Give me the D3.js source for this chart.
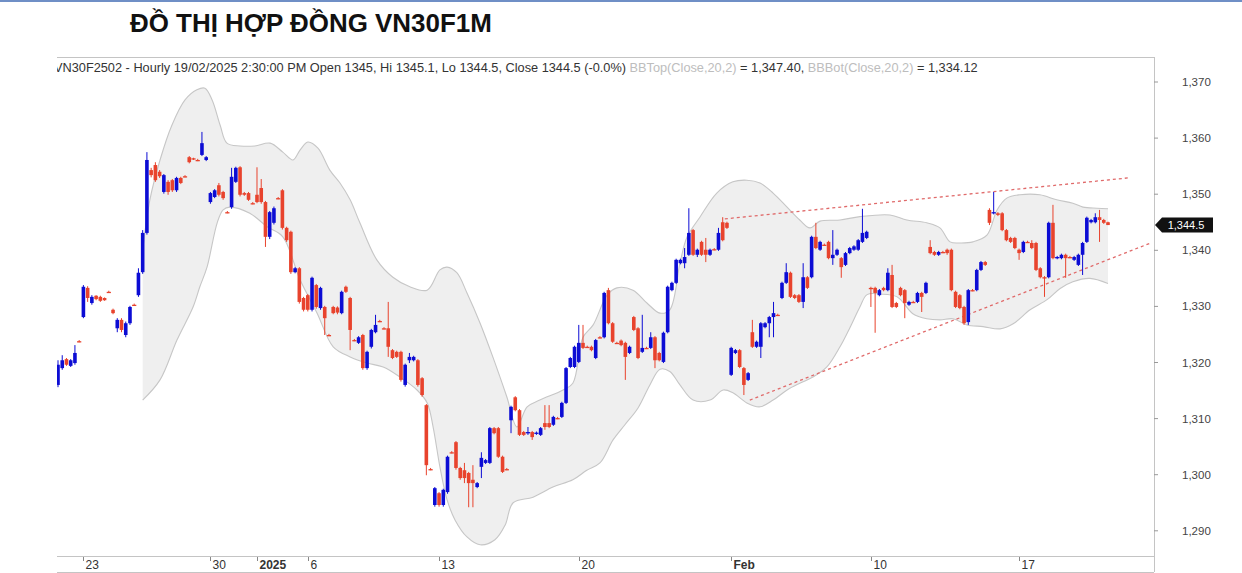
<!DOCTYPE html>
<html><head><meta charset="utf-8">
<script src="https://cdn.jsdelivr.net/npm/d3@7"></script>
<style>html,body{margin:0;padding:0;background:#fff;}svg{display:block;font-family:"Liberation Sans",Arial,sans-serif;}</style>
</head><body><svg id="c" width="1242" height="573"></svg>
<script>
// OHLC [open, high, low, close], hourly bars
const candles = [
[1316.0,1320.4,1315.6,1319.6],[1319.0,1321.3,1318.7,1320.4],[1320.6,1320.8,1319.4,1319.6],[1319.4,1320.6,1319.2,1320.4],
[1319.9,1323.1,1319.6,1321.7],[1323.8,1324.0,1323.6,1323.8],[1328.1,1333.8,1327.9,1333.5],[1333.3,1333.6,1330.8,1331.5],
[1330.6,1332.0,1330.3,1331.7],[1331.9,1332.0,1331.1,1331.3],[1331.7,1331.9,1330.8,1331.0],[1331.5,1331.6,1331.0,1331.1],
[1332.6,1332.8,1332.4,1332.6],[1329.4,1329.6,1328.6,1328.8],[1326.1,1327.9,1325.4,1327.6],[1327.6,1327.9,1325.4,1325.8],
[1324.9,1327.3,1324.5,1327.0],[1327.0,1330.1,1326.7,1329.9],[1330.3,1330.5,1330.1,1330.3],[1332.0,1336.8,1331.7,1336.0],
[1336.1,1343.6,1335.8,1343.1],[1343.1,1357.5,1342.8,1356.1],[1354.3,1354.7,1353.0,1353.4],[1355.2,1355.7,1352.2,1352.5],
[1354.0,1354.3,1352.9,1353.2],[1350.4,1353.6,1350.1,1353.4],[1352.2,1352.5,1349.9,1350.4],[1352.5,1352.7,1350.4,1350.7],
[1350.7,1353.1,1350.4,1352.9],[1352.9,1353.1,1351.8,1352.0],[1353.2,1353.4,1353.0,1353.2],[1356.6,1356.8,1355.5,1355.7],
[1356.4,1356.5,1356.1,1356.2],[1356.1,1356.3,1355.9,1356.1],[1357.0,1361.1,1356.8,1359.1],[1356.1,1356.8,1355.9,1356.6],
[1348.6,1350.4,1348.3,1350.2],[1349.5,1350.9,1349.3,1350.7],[1351.6,1352.0,1349.6,1349.9],[1350.4,1350.6,1349.0,1349.3],
[1346.8,1347.0,1346.6,1346.8],[1347.7,1354.7,1347.4,1353.1],[1352.2,1354.9,1352.0,1354.7],[1354.8,1355.0,1349.6,1349.9],
[1350.2,1350.4,1349.7,1349.9],[1350.2,1350.4,1348.8,1349.0],[1348.4,1348.6,1348.2,1348.4],[1349.9,1354.8,1348.4,1348.6],
[1351.1,1352.7,1348.3,1348.6],[1348.6,1348.8,1340.6,1342.4],[1342.4,1347.0,1342.0,1346.8],[1344.9,1347.8,1344.6,1347.5],
[1349.3,1349.5,1349.1,1349.3],[1350.7,1350.9,1343.7,1344.0],[1344.0,1344.2,1341.5,1341.8],[1343.3,1343.5,1335.8,1336.1],
[1336.1,1337.0,1335.9,1336.8],[1336.8,1337.0,1330.5,1330.8],[1331.5,1331.7,1329.1,1329.4],[1332.0,1332.2,1329.1,1329.4],
[1329.4,1335.3,1329.1,1335.1],[1333.8,1334.0,1329.6,1329.9],[1329.7,1333.5,1329.4,1333.3],[1329.9,1330.1,1324.9,1327.9],
[1324.9,1325.1,1324.7,1324.9],[1329.9,1330.1,1328.6,1328.8],[1329.8,1330.0,1328.6,1328.9],[1328.8,1332.8,1328.6,1332.6],
[1333.5,1333.7,1332.4,1332.6],[1331.5,1331.7,1322.2,1325.8],[1324.0,1324.2,1323.8,1324.0],[1323.5,1324.7,1323.3,1324.5],
[1324.9,1325.1,1318.7,1319.0],[1319.0,1322.1,1318.7,1321.9],[1322.8,1326.0,1322.5,1325.8],[1325.4,1328.5,1325.2,1326.7],
[1327.4,1327.6,1327.2,1327.4],[1326.1,1326.3,1325.9,1326.1],[1326.1,1330.8,1321.0,1322.8],[1322.2,1322.4,1320.6,1320.8],
[1321.9,1322.1,1320.8,1321.0],[1321.9,1322.1,1316.6,1316.9],[1316.0,1319.8,1315.7,1319.6],[1320.4,1321.7,1319.9,1321.0],
[1320.4,1321.2,1320.2,1321.0],[1320.4,1320.6,1315.7,1316.0],[1317.2,1317.4,1313.9,1314.2],[1312.4,1312.6,1299.9,1301.7],
[1301.0,1301.2,1300.8,1301.0],[1294.6,1297.8,1294.3,1297.6],[1296.7,1296.9,1294.3,1294.6],[1294.6,1297.5,1294.3,1297.3],
[1296.9,1303.4,1296.6,1303.2],[1304.0,1304.2,1303.8,1304.0],[1305.8,1306.0,1300.9,1301.2],[1301.2,1301.4,1299.1,1299.4],
[1300.8,1302.1,1298.5,1299.4],[1300.3,1300.5,1294.2,1298.5],[1299.1,1301.7,1294.2,1298.5],[1297.8,1298.7,1297.6,1298.5],
[1301.4,1304.0,1299.4,1303.0],[1302.1,1302.8,1301.9,1302.6],[1302.1,1308.5,1301.9,1308.3],[1308.3,1308.5,1307.2,1307.4],
[1308.3,1308.5,1303.0,1303.2],[1303.2,1303.4,1300.3,1300.5],[1301.0,1301.2,1300.8,1301.0],[1309.7,1312.3,1307.4,1312.1],
[1313.8,1314.0,1311.3,1311.5],[1311.5,1311.7,1306.9,1307.1],[1307.6,1307.8,1306.9,1307.1],[1307.4,1308.5,1307.1,1307.6],
[1307.6,1307.8,1306.2,1306.7],[1307.3,1307.7,1307.1,1307.5],[1307.1,1308.5,1306.9,1308.3],[1309.2,1312.4,1308.0,1308.5],
[1309.2,1312.4,1308.3,1308.5],[1308.9,1310.5,1308.7,1310.3],[1310.1,1310.3,1309.9,1310.1],[1310.3,1313.0,1310.1,1312.8],
[1312.8,1319.2,1312.6,1319.0],[1319.2,1321.0,1319.0,1320.8],[1319.2,1323.0,1319.0,1322.8],[1320.1,1326.7,1319.9,1323.5],
[1323.5,1326.7,1322.4,1322.6],[1322.8,1323.0,1322.6,1322.8],[1322.8,1323.0,1322.0,1322.2],[1320.8,1324.2,1320.6,1324.0],
[1324.5,1324.7,1324.3,1324.5],[1324.5,1332.6,1324.3,1332.4],[1332.9,1333.3,1326.8,1327.0],[1327.0,1327.2,1323.5,1323.7],
[1323.5,1323.7,1323.3,1323.5],[1323.9,1324.1,1322.9,1323.1],[1323.5,1323.7,1316.9,1321.0],[1321.7,1323.0,1321.5,1322.8],
[1328.1,1328.3,1325.6,1325.8],[1326.1,1326.3,1320.6,1320.8],[1321.9,1328.5,1321.7,1322.6],[1322.6,1322.8,1322.4,1322.6],
[1322.6,1325.4,1322.4,1324.5],[1324.5,1324.7,1319.0,1320.4],[1321.7,1321.9,1320.2,1320.4],[1320.1,1325.5,1319.9,1325.3],
[1325.4,1333.7,1325.2,1333.5],[1332.9,1334.4,1332.7,1334.2],[1334.2,1338.5,1334.0,1338.3],[1337.7,1338.5,1337.5,1338.3],
[1337.7,1340.4,1336.8,1338.8],[1339.2,1347.5,1339.0,1343.1],[1343.6,1343.8,1339.0,1339.2],[1339.2,1340.3,1338.8,1340.1],
[1341.5,1341.7,1339.0,1339.2],[1340.1,1342.2,1337.9,1339.2],[1339.2,1340.3,1339.0,1340.1],[1340.2,1340.4,1340.0,1340.2],
[1340.1,1344.0,1339.9,1343.1],[1345.0,1345.9,1341.6,1341.8],[1344.9,1345.1,1343.8,1344.0],[1317.8,1322.8,1317.6,1322.6],
[1321.7,1322.4,1321.5,1322.2],[1322.2,1322.4,1319.0,1319.2],[1319.0,1319.2,1314.2,1316.0],[1316.9,1318.3,1316.7,1318.1],
[1325.4,1327.6,1322.6,1322.8],[1322.8,1323.9,1322.6,1323.7],[1322.8,1327.2,1320.8,1327.0],[1326.3,1327.2,1326.1,1327.0],
[1327.0,1328.3,1324.5,1328.1],[1328.1,1330.8,1324.5,1328.8],[1328.5,1328.7,1328.3,1328.5],[1331.5,1334.4,1331.3,1334.2],
[1334.2,1337.7,1334.0,1336.1],[1336.0,1336.2,1331.5,1331.7],[1332.0,1332.2,1331.3,1331.5],[1332.0,1332.2,1330.6,1330.8],
[1330.8,1337.7,1329.7,1335.2],[1335.2,1335.4,1333.1,1333.3],[1335.2,1342.6,1335.0,1342.4],[1342.4,1344.9,1340.2,1340.4],
[1340.1,1341.7,1339.9,1341.5],[1341.0,1341.2,1340.8,1341.0],[1341.5,1341.7,1338.4,1338.6],[1338.6,1343.6,1337.4,1339.2],
[1339.2,1340.3,1339.0,1340.1],[1338.6,1338.8,1335.1,1337.0],[1337.4,1339.7,1337.2,1339.5],[1339.5,1340.6,1339.3,1340.4],
[1340.1,1340.9,1339.9,1340.7],[1340.1,1342.0,1339.9,1341.8],[1341.5,1347.4,1341.3,1343.1],[1342.2,1343.5,1342.0,1343.3],
[1333.3,1333.5,1329.9,1333.1],[1333.3,1333.5,1325.3,1332.4],[1332.0,1333.1,1331.8,1332.9],[1333.3,1333.5,1332.7,1332.9],
[1332.9,1336.8,1332.7,1336.0],[1335.6,1337.4,1329.7,1329.9],[1330.6,1330.8,1329.7,1329.9],[1333.3,1333.5,1331.8,1332.0],
[1332.9,1333.1,1327.9,1330.6],[1330.3,1331.0,1330.1,1330.8],[1330.8,1331.0,1330.6,1330.8],[1330.8,1332.6,1330.6,1332.4],
[1332.4,1332.6,1329.0,1331.7],[1332.4,1334.4,1332.2,1334.2],[1340.6,1341.8,1339.3,1339.5],[1339.7,1339.9,1339.0,1339.2],
[1339.2,1339.9,1339.0,1339.7],[1339.7,1339.9,1339.5,1339.7],[1340.1,1340.3,1339.2,1339.5],[1340.1,1340.3,1332.7,1332.9],
[1332.6,1332.8,1329.7,1329.9],[1332.0,1332.2,1329.5,1329.7],[1329.9,1330.1,1326.7,1327.0],[1327.2,1333.1,1326.7,1332.9],
[1332.9,1333.1,1332.7,1332.9],[1332.9,1336.7,1332.7,1336.5],[1336.5,1338.1,1336.3,1337.9],[1337.9,1338.1,1337.2,1337.4],
[1347.2,1347.5,1344.5,1344.9],[1346.6,1350.4,1346.4,1346.8],[1346.6,1346.8,1346.1,1346.3],[1346.6,1346.8,1343.4,1343.6],
[1343.6,1343.8,1341.6,1341.8],[1342.2,1342.4,1341.3,1341.5],[1342.2,1342.4,1340.2,1340.4],[1340.1,1340.3,1338.3,1339.5],
[1339.7,1341.7,1339.5,1341.5],[1341.5,1341.7,1341.3,1341.5],[1341.3,1341.8,1340.2,1340.4],[1341.3,1341.5,1336.3,1336.5],
[1336.8,1337.0,1335.0,1335.2],[1335.2,1335.4,1331.7,1335.1],[1335.2,1345.1,1335.0,1344.9],[1344.9,1348.1,1338.4,1338.6],
[1338.6,1339.0,1338.4,1338.8],[1338.6,1339.4,1338.4,1339.2],[1339.2,1339.4,1335.1,1338.6],[1338.8,1339.0,1338.6,1338.8],
[1338.3,1339.0,1338.1,1338.8],[1337.4,1339.4,1337.2,1339.2],[1339.2,1341.5,1335.6,1341.3],[1341.5,1346.0,1341.3,1345.8],
[1345.0,1345.6,1344.8,1345.4],[1345.0,1346.6,1344.8,1345.9],[1345.9,1347.2,1341.5,1345.4],[1345.4,1345.6,1344.7,1344.9],
[1345.0,1345.1,1344.5,1344.5]
];

// Bollinger band outline (bar index, price)
const bbTopIdx = [20,21.7,24.1,26.9,30,32.8,34.7,36.4,38.3,39.9,43,46.5,50.1,53.1,55.5,57.2,59,61.4,64.2,66.6,69,71.3,75.3,79.1,83.1,87.2,90.2,91.9,94.2,96.6,99.7,102.7,106,108.4,110.8,113.8,119.3,121.6,124,126.4,129.7,132,135.8,139.1,142.2,144.5,146.9,148.6,151.6,155.6,159.4,162.7,165.8,168.9,172.2,175.2,177.6,180,184.7,189.4,196.5,200.5,205.2,208.3,210.7,213,216.1,219.4,221.8,224.1,227.2,231.9,235.9,239.7,242.1,245.4,248];
const bbTopVal = [1340.0,1349.0,1356.1,1362.3,1366.8,1368.6,1368.9,1366.8,1362.3,1359.1,1358.6,1358.6,1359.1,1357.5,1356.1,1357.9,1359.3,1358.2,1354.3,1352.0,1349.0,1344.9,1338.3,1335.2,1333.5,1332.9,1336.5,1337.0,1336.0,1332.4,1327.0,1321.0,1313.9,1308.5,1312.1,1313.3,1315.1,1316.3,1324.5,1326.7,1332.0,1333.3,1332.9,1330.6,1328.8,1329.4,1337.7,1342.4,1345.9,1350.2,1352.2,1352.5,1352.0,1350.2,1347.7,1345.4,1344.0,1345.2,1345.4,1346.0,1346.3,1345.4,1344.9,1344.0,1341.5,1341.3,1341.5,1342.7,1347.2,1349.3,1349.9,1349.9,1349.0,1348.4,1347.7,1347.5,1347.4];
const bbBotIdx = [20,24.1,28.1,31.9,33.5,35.2,37.6,39,40.6,45.3,49.4,53.1,57.2,61.2,65,69,73,76.8,80.8,84.8,87.2,88.6,90.2,91.9,93.8,96.6,99.7,103.2,105.6,107.5,112.2,116.9,121.6,124.9,128,131.1,133.9,137,139.8,142.2,144.5,146.9,150,154,157.1,159.4,162.7,165.8,168.9,172.2,175.2,178.3,181.6,184.7,187.1,189.4,191.1,194.2,198.2,201.9,205.2,208.3,211.4,214.7,218.5,222.5,225.6,229.6,233.6,236.7,239.7,243.7,248];
const bbBotVal = [1313.3,1316.9,1324.0,1329.9,1333.5,1337.0,1344.9,1347.2,1347.7,1346.6,1344.2,1342.4,1334.7,1328.8,1322.8,1321.0,1319.9,1319.2,1317.4,1315.1,1312.8,1308.5,1301.4,1295.5,1291.9,1288.9,1287.5,1288.4,1291.0,1295.0,1296.0,1297.8,1299.1,1300.8,1302.1,1306.2,1308.9,1311.9,1316.0,1318.8,1318.4,1316.0,1313.3,1313.3,1315.1,1314.6,1312.8,1312.1,1313.3,1315.1,1316.3,1317.4,1319.2,1322.8,1326.3,1329.9,1332.1,1332.2,1331.7,1328.7,1327.8,1327.6,1327.8,1326.7,1326.4,1326.0,1326.9,1329.4,1331.2,1333.2,1334.4,1335.0,1334.1];

// Hand-drawn trend lines (bar index, price)
const trendUpperIdx = [157.5, 252.7], trendUpperVal = [1345.6, 1352.9];
const trendLowerIdx = [163.4, 258.4], trendLowerVal = [1313.3, 1341.4];

const yTicks = [1290,1300,1310,1320,1330,1340,1350,1360,1370];
const xTickBars = [6,36,47,59,90,123,159,192,227];
const xTickLabels = ["23","30","2025","6","13","20","Feb","10","17"];
const xTickBold = [false,false,true,false,false,false,true,false,false];
const lastPrice = 1344.5;
const titleText = "ĐỒ THỊ HỢP ĐỒNG VN30F1M";
const headerParts = [
  ["VN30F2502 - Hourly 19/02/2025 2:30:00 PM Open 1345, Hi 1345.1, Lo 1344.5, Close 1344.5 (-0.0%) ", "#333"],
  ["BBTop(Close,20,2)", "#bdbdbd"],
  [" = 1,347.40, ", "#333"],
  ["BBBot(Close,20,2)", "#bdbdbd"],
  [" = 1,334.12", "#333"]
];

const W = 1242, H = 573;
const plotL = 57, plotR = 1154, plotT = 57, plotB = 556, axisB = 572;
const svg = d3.select("#c");

const x = d3.scaleLinear().domain([0, candles.length - 1]).range([58, 1108]);
const y = d3.scaleLinear().domain([1290, 1370]).range([530.8, 82]);

// top blue rule
svg.append("rect").attr("x",0).attr("y",0).attr("width",W).attr("height",2).attr("fill","#6f8fc6");

// title
const title = svg.append("text").attr("x",130).attr("y",32).attr("font-size",26).attr("font-weight","bold")
  .attr("fill","#111").text(titleText);
const tw = title.node().getComputedTextLength();
title.attr("font-size", 26 * 362 / tw);

svg.append("defs").append("clipPath").attr("id","plotclip").append("rect")
  .attr("x",plotL).attr("y",plotT).attr("width",plotR-plotL).attr("height",plotB-plotT);

// frame
const fr = svg.append("g").attr("stroke","#c4c4c4").attr("stroke-width",1).attr("fill","none");
fr.append("line").attr("x1",plotL).attr("x2",plotR).attr("y1",plotT+0.5).attr("y2",plotT+0.5);
fr.append("line").attr("x1",plotR+0.5).attr("x2",plotR+0.5).attr("y1",plotT).attr("y2",axisB);
fr.append("line").attr("x1",plotL).attr("x2",plotR).attr("y1",plotB+0.5).attr("y2",plotB+0.5);
fr.append("line").attr("x1",plotL).attr("x2",plotR).attr("y1",axisB+0.5).attr("y2",axisB+0.5);

// header
const hdr = svg.append("text").attr("x",54).attr("y",72).attr("font-size",12).attr("clip-path","url(#plotclip)");
headerParts.forEach(p => hdr.append("tspan").attr("fill",p[1]).attr("xml:space","preserve").text(p[0]));
hdr.attr("style","white-space:pre");
const hw = hdr.node().getComputedTextLength();
hdr.attr("font-size", 12 * 924 / hw);

const plot = svg.append("g").attr("clip-path","url(#plotclip)");

// Bollinger band
const topPts = bbTopIdx.map((d,i)=>[x(d), y(bbTopVal[i])]);
const botPts = bbBotIdx.map((d,i)=>[x(d), y(bbBotVal[i])]);
const ln = d3.line().curve(d3.curveCatmullRom.alpha(0.5));
const areaD = ln(topPts) + "L" + ln(botPts.slice().reverse()).slice(1) + "Z";
plot.append("path").attr("d",areaD).attr("fill","#efefef").attr("stroke","none");
plot.append("path").attr("d",ln(topPts)).attr("fill","none").attr("stroke","#c6c6c6").attr("stroke-width",1.1);
plot.append("path").attr("d",ln(botPts)).attr("fill","none").attr("stroke","#c6c6c6").attr("stroke-width",1.1);

// trend lines
[[trendUpperIdx,trendUpperVal],[trendLowerIdx,trendLowerVal]].forEach(t=>{
  plot.append("line").attr("x1",x(t[0][0])).attr("y1",y(t[1][0])).attr("x2",x(t[0][1])).attr("y2",y(t[1][1]))
    .attr("stroke","#e06a6a").attr("stroke-width",1.3).attr("stroke-dasharray","3,3");
});

// candles
const UP = "#0c0cd4", DN = "#e8432d";
const cg = plot.append("g");
candles.forEach((c,i)=>{
  const [o,h,l,cl] = c;
  const col = cl > o ? UP : DN;
  const cx = x(i);
  cg.append("line").attr("x1",cx).attr("x2",cx).attr("y1",y(h)).attr("y2",y(l)).attr("stroke",col).attr("stroke-width",1);
  const top = y(Math.max(o,cl)), bot = y(Math.min(o,cl));
  const hgt = Math.max(1.3, bot - top);
  const bw = (bot - top) < 1.5 ? 4.2 : 3.6;
  cg.append("rect").attr("x",cx - bw/2).attr("y",top).attr("width",bw).attr("height",hgt).attr("fill",col);
});

// y axis
yTicks.forEach(v=>{
  const yy = y(v);
  svg.append("line").attr("x1",plotR).attr("x2",plotR+4).attr("y1",yy).attr("y2",yy).attr("stroke","#999");
  svg.append("text").attr("x",1182).attr("y",yy+4).attr("font-size",11.5).attr("fill","#444").text(d3.format(",")(v));
});

// last price tag
const ly = y(lastPrice);
svg.append("path").attr("d",`M${plotR+1},${ly} L${plotR+8},${ly-7.5} L${1213},${ly-7.5} L${1213},${ly+7.5} L${plotR+8},${ly+7.5} Z`).attr("fill","#111");
svg.append("text").attr("x",1186).attr("y",ly+4).attr("text-anchor","middle").attr("font-size",11).attr("fill","#fff").text(d3.format(",.1f")(lastPrice));

// x axis
xTickBars.forEach((b,i)=>{
  const xx = Math.round(x(b)) + 0.5;
  svg.append("line").attr("x1",xx).attr("x2",xx).attr("y1",plotB+1).attr("y2",plotB+5).attr("stroke","#888");
  svg.append("text").attr("x",xx+2).attr("y",569).attr("font-size",12).attr("fill","#333")
    .attr("font-weight", xTickBold[i] ? "bold" : "normal").text(xTickLabels[i]);
});
</script></body></html>
